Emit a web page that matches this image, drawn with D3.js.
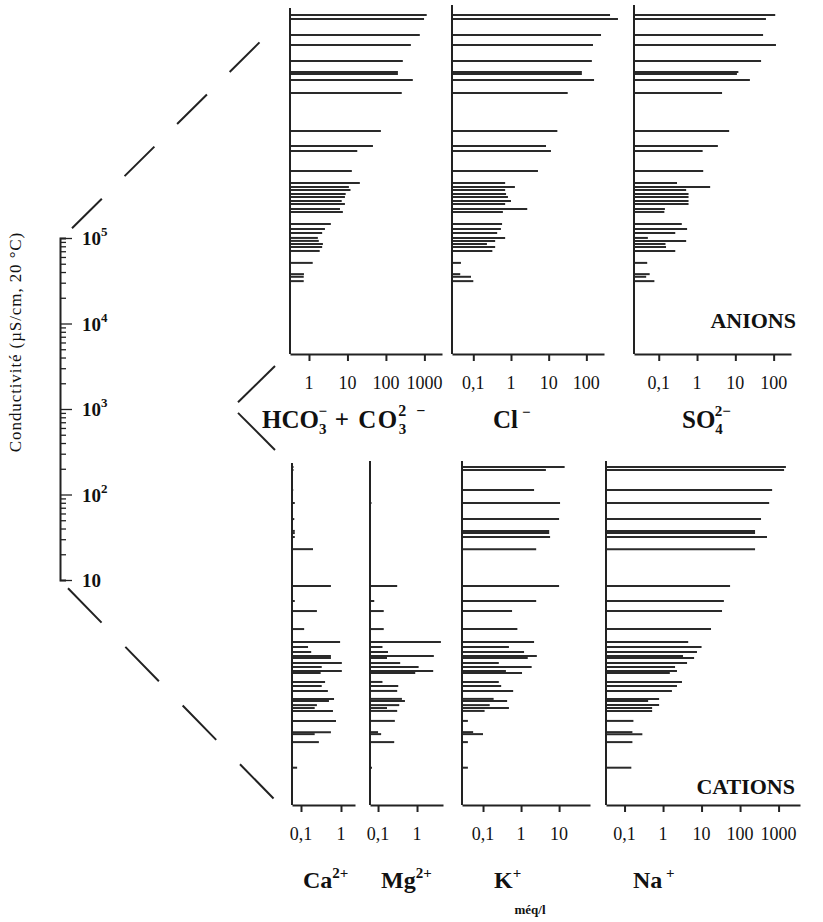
<!DOCTYPE html>
<html>
<head>
<meta charset="UTF-8">
<script src="https://cdn.jsdelivr.net/npm/d3@7"></script>
<style>
    body { margin: 0; background: #fff; }
    svg { font-family: "Liberation Serif", "Times New Roman", serif; }
</style>
</head>
<body>
<div id="chart"></div>
<script>
const width = 823
const height = 922

// anion samples: conductivity (µS/cm) and concentrations (méq/l)
const anionCond = [97300, 87300, 56600, 43200, 28000, 20800, 19700, 16700, 11800, 4200, 2800, 2440, 1420,
    1030, 922, 850, 763, 703, 631, 582, 508, 469, 338, 296, 265, 232, 214, 197, 181, 163, 118, 87, 81, 72]
const hco3 = [1150, 980, 760, 445, 275, 205, 205, 500, 258, 74, 46, 18, 13,
    21, 10.9, 12, 9, 8.6, 7.1, 8.6, 6.4, 7.6, 3.7, 2.6, 2.2, 1.7, 1.8, 2.3, 2.2, 1.9, 1.25, 0.74, 0.73, 0.73]
const cl = [425, 690, 245, 150, 140, 76, 76, 160, 32, 17, 8.5, 11.5, 5.2,
    0.7, 1.27, 0.7, 0.74, 0.83, 1.0, 0.7, 2.7, 0.61, 0.58, 0.54, 0.43, 0.7, 0.38, 0.23, 0.38, 0.32, 0.047, 0.045, 0.087, 0.1]
const so4 = [110, 63, 53, 115, 47, 12, 11, 24, 4.5, 6.9, 3.5, 1.4, 1.45,
    0.3, 2.2, 0.52, 0.6, 0.6, 0.6, 0.6, 0.145, 0.14, 0.4, 0.55, 0.27, 0.052, 0.52, 0.15, 0.155, 0.27, 0.05, 0.058, 0.047, 0.077]

// cation samples
const cationCond = [100000, 92200, 53600, 37700, 24400, 17700, 16700, 15000, 10800, 3980, 2650, 2020, 1240,
    873, 763, 666, 598, 566, 494, 444, 398, 377, 296, 265, 232, 187, 177, 158, 146, 135, 103, 76, 72, 58, 29]
const ca = [0.065, 0.065, 0.064, 0.07, 0.068, 0.07, 0.07, 0.07, 0.2, 0.56, 0.07, 0.25, 0.12,
    0.95, 0.15, 0.18, 0.56, 0.56, 1.05, 0.33, 1.05, 0.31, 0.4, 0.33, 0.47, 0.67, 0.5, 0.25, 0.22, 0.63, 0.75, 0.56, 0.22, 0.28, 0.08]
const mg = [0.066, 0.066, 0.065, 0.068, 0.066, 0.065, 0.065, 0.065, 0.065, 0.31, 0.08, 0.14, 0.14,
    4.1, 0.13, 0.18, 2.7, 0.17, 0.37, 1.1, 2.6, 0.9, 0.13, 0.33, 0.31, 0.41, 0.49, 0.35, 0.17, 0.31, 0.27, 0.1, 0.12, 0.26, 0.07]
const k = [14, 4.5, 2.2, 10.6, 10, 5.5, 5.5, 5.8, 2.5, 10, 2.5, 0.58, 0.8,
    2.2, 0.48, 1.2, 2.6, 1.5, 0.26, 1.9, 0.4, 1.06, 0.26, 0.3, 0.62, 0.19, 0.43, 0.15, 0.48, 0.11, 0.04, 0.055, 0.1, 0.04, 0.04]
const na = [1550, 1390, 680, 570, 350, 245, 245, 500, 245, 55, 38, 34, 17.6,
    4.5, 10, 7.6, 3.3, 6.4, 4.2, 2.05, 2.3, 1.5, 3.1, 2.3, 1.7, 0.79, 0.41, 0.79, 0.52, 0.52, 0.17, 0.16, 0.29, 0.16, 0.15]

const condTicks = [10, 100, 1000, 10000, 100000]

const svg = d3.select("#chart")
    .append("svg")
    .attr("width", width)
    .attr("height", height)

// conductivity scales for the left axis and the two blocks of panels
const condAxis = d3.scaleLog().domain([10, 1e5]).range([580, 238])
const anionY = d3.scaleLog().domain([10, 1e5]).range([354, 14])
const cationY = d3.scaleLog().domain([10, 1e5]).range([807, 467])

const commaFmt = v => String(v).replace(".", ",")

const panels = [
    {values: hco3, cond: anionCond, y: anionY, top: 8, bottom: 354, x0: 290, x1: 442, domain: [0.321, 2870], ticks: [1, 10, 100, 1000]},
    {values: cl, cond: anionCond, y: anionY, top: 5, bottom: 354, x0: 452, x1: 604, domain: [0.0272, 294], ticks: [0.1, 1, 10, 100]},
    {values: so4, cond: anionCond, y: anionY, top: 5, bottom: 354, x0: 634, x1: 791, domain: [0.0226, 284], ticks: [0.1, 1, 10, 100]},
    {values: ca, cond: cationCond, y: cationY, top: 463, bottom: 805, x0: 292, x1: 355, domain: [0.0596, 2.24], ticks: [0.1, 1]},
    {values: mg, cond: cationCond, y: cationY, top: 461, bottom: 805, x0: 370, x1: 443, domain: [0.0622, 4.64], ticks: [0.1, 1]},
    {values: k, cond: cationCond, y: cationY, top: 461, bottom: 805, x0: 462, x1: 590, domain: [0.028, 65], ticks: [0.1, 1, 10]},
    {values: na, cond: cationCond, y: cationY, top: 461, bottom: 805, x0: 606, x1: 800, domain: [0.033, 3600], ticks: [0.1, 1, 10, 100, 1000]}
]

panels.forEach(p => {
    const x = d3.scaleLog().domain(p.domain).range([p.x0, p.x1])
    const g = svg.append("g")

    g.selectAll("line.bar")
        .data(p.values)
        .enter()
        .append("line")
        .attr("class", "bar")
        .attr("x1", p.x0)
        .attr("x2", v => x(v))
        .attr("y1", (v, i) => p.y(p.cond[i]))
        .attr("y2", (v, i) => p.y(p.cond[i]))
        .attr("stroke", "#2a2a2a")
        .attr("stroke-width", 2)

    // vertical axis of the panel
    g.append("line")
        .attr("x1", p.x0).attr("x2", p.x0)
        .attr("y1", p.top).attr("y2", p.bottom)
        .attr("stroke", "#222")
        .attr("stroke-width", 2)

    const axis = g.append("g")
        .attr("transform", `translate(0,${p.bottom})`)
        .call(d3.axisBottom(x).tickValues(p.ticks).tickSize(7).tickSizeOuter(0).tickFormat(""))
    axis.select(".domain").attr("stroke", "#222").attr("stroke-width", 2)
    axis.selectAll(".tick line").attr("stroke", "#222").attr("stroke-width", 2)

    g.selectAll("text.tl")
        .data(p.ticks)
        .enter()
        .append("text")
        .attr("class", "tl")
        .attr("x", v => x(v))
        .attr("y", p.bottom + 35)
        .attr("text-anchor", "middle")
        .attr("font-size", 18)
        .attr("fill", "#111")
        .text(commaFmt)
})

// left conductivity axis
const leftAxis = svg.append("g")
    .attr("transform", "translate(60,0)")
    .call(d3.axisRight(condAxis).tickSizeOuter(0).tickFormat("").tickSize(6))
leftAxis.select(".domain").attr("stroke", "#222").attr("stroke-width", 2)
leftAxis.selectAll(".tick line")
    .attr("stroke", "#222")
    .attr("stroke-width", 1.3)
    .attr("x2", d => condTicks.includes(d) ? 12 : 6)

const condLabels = svg.selectAll("text.cond")
    .data(condTicks)
    .enter()
    .append("text")
    .attr("class", "cond")
    .attr("x", 82)
    .attr("y", d => condAxis(d) + 7)
    .attr("font-size", 19)
    .attr("font-weight", "bold")
    .attr("fill", "#111")
condLabels.append("tspan").text("10")
condLabels.filter(d => d > 10).append("tspan")
    .attr("dy", -9)
    .attr("font-size", 13)
    .text(d => Math.round(Math.log10(d)))

svg.append("text")
    .attr("transform", "translate(21,342) rotate(-90)")
    .attr("text-anchor", "middle")
    .attr("font-size", 17)
    .attr("letter-spacing", 0.9)
    .attr("fill", "#111")
    .text("Conductivité (µS/cm, 20 °C)")

// connector lines between the axis and the panel blocks
const connectors = [
    {x1: 72, y1: condAxis(1.3e5), x2: 275, y2: 27, dash: "42,32"},
    {x1: 238, y1: condAxis(1200), x2: 275, y2: 366, dash: null},
    {x1: 238, y1: condAxis(900), x2: 275, y2: 450, dash: null},
    {x1: 68, y1: condAxis(8), x2: 275, y2: 800, dash: "48,34"}
]
svg.selectAll("line.conn")
    .data(connectors)
    .enter()
    .append("line")
    .attr("class", "conn")
    .attr("x1", d => d.x1).attr("y1", d => d.y1)
    .attr("x2", d => d.x2).attr("y2", d => d.y2)
    .attr("stroke", "#222")
    .attr("stroke-width", 2)
    .attr("stroke-dasharray", d => d.dash)

// ion names
const ionText = (x, y, size) => svg.append("text")
    .attr("x", x).attr("y", y)
    .attr("font-size", size)
    .attr("font-weight", "bold")
    .attr("fill", "#111")

const hco = ionText(262, 428, 25)
hco.append("tspan").text("HCO")
hco.append("tspan").attr("font-size", 15).attr("dy", 6).text("3")
hco.append("tspan").attr("font-size", 15).attr("dx", -8).attr("dy", -18).text("−")
hco.append("tspan").attr("dy", 12).attr("letter-spacing", 1.5).text(" + CO")
hco.append("tspan").attr("font-size", 15).attr("dy", 6).text("3")
hco.append("tspan").attr("font-size", 16).attr("dx", -8).attr("dy", -18).attr("letter-spacing", 3).text("2 −")

const clT = ionText(493, 428, 25)
clT.append("tspan").text("Cl")
clT.append("tspan").attr("font-size", 15).attr("dx", 4).attr("dy", -11).text("−")

const so = ionText(682, 428, 25)
so.append("tspan").text("SO")
so.append("tspan").attr("font-size", 15).attr("dy", 6).text("4")
so.append("tspan").attr("font-size", 15).attr("dx", -8).attr("dy", -18).text("2−")

const cationNames = [
    {x: 303, base: "Ca", sup: "2+"},
    {x: 381, base: "Mg", sup: "2+"},
    {x: 494, base: "K", sup: "+"},
    {x: 633, base: "Na", sup: " +"}
]
cationNames.forEach(c => {
    const t = ionText(c.x, 888, 24)
    t.append("tspan").text(c.base)
    t.append("tspan").attr("font-size", 15).attr("dy", -10).text(c.sup)
})

svg.append("text")
    .attr("x", 796).attr("y", 328)
    .attr("text-anchor", "end")
    .attr("font-size", 22)
    .attr("font-weight", "bold")
    .attr("fill", "#111")
    .text("ANIONS")

svg.append("text")
    .attr("x", 795).attr("y", 794)
    .attr("text-anchor", "end")
    .attr("font-size", 22)
    .attr("font-weight", "bold")
    .attr("fill", "#111")
    .text("CATIONS")

svg.append("text")
    .attr("x", 530).attr("y", 914)
    .attr("text-anchor", "middle")
    .attr("font-size", 13)
    .attr("font-weight", "bold")
    .attr("fill", "#111")
    .text("méq/l")
</script>
</body>
</html>
